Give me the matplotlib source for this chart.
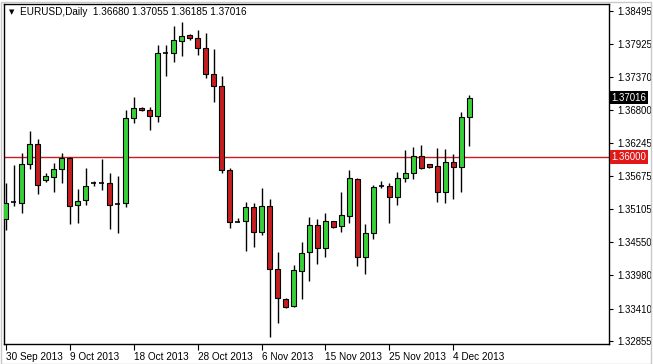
import matplotlib
matplotlib.use("Agg")
import matplotlib.pyplot as plt
from matplotlib.patches import Rectangle
import pandas as pd

# daily bars, the broker also sends a short Sunday bar (no Saturdays)
dates = pd.date_range("2013-09-30", "2013-12-06", freq="D")
dates = dates[dates.dayofweek != 5]

opens = [1.34940, 1.35231, 1.35214, 1.35880, 1.36222, 1.35607, 1.35658, 1.35795, 1.35983, 1.35180,
         1.35265, 1.35556, 1.35556, 1.35556, 1.35197, 1.35214, 1.36666, 1.36837, 1.36803, 1.36701,
         1.37777, 1.37777, 1.37982, 1.38085, 1.38034, 1.37863, 1.37418, 1.37213, 1.35778, 1.34889,
         1.34906, 1.35145, 1.34718, 1.35162, 1.34086, 1.33573, 1.33453, 1.34052, 1.34376, 1.34838,
         1.34445, 1.34906, 1.34821, 1.34992, 1.35624, 1.34291, 1.34701, 1.35504, 1.35504, 1.35316,
         1.35641, 1.35726, 1.36017, 1.35880, 1.35846, 1.35402, 1.35914, 1.35829, 1.36680]
highs = [1.35556, 1.35863, 1.36068, 1.36444, 1.36307, 1.35726, 1.35897, 1.36068, 1.36000, 1.35453,
         1.35812, 1.35590, 1.35966, 1.35726, 1.35675, 1.36803, 1.37025, 1.36854, 1.36854, 1.37914,
         1.37914, 1.38239, 1.38307, 1.38102, 1.38170, 1.38119, 1.37846, 1.37384, 1.35812, 1.34957,
         1.35231, 1.35214, 1.35470, 1.35282, 1.34376, 1.33590, 1.34154, 1.34547, 1.34974, 1.34940,
         1.35043, 1.34906, 1.35402, 1.35778, 1.35641, 1.34855, 1.35521, 1.35590, 1.35556, 1.35744,
         1.36119, 1.36171, 1.36205, 1.35880, 1.36154, 1.36137, 1.36051, 1.36769, 1.37055]
lows = [1.34752, 1.35162, 1.35043, 1.35795, 1.35368, 1.35573, 1.35402, 1.35556, 1.34855, 1.34872,
        1.35180, 1.35504, 1.35436, 1.34769, 1.34701, 1.35145, 1.36581, 1.36786, 1.36461, 1.36598,
        1.37384, 1.37623, 1.37726, 1.37999, 1.37743, 1.37350, 1.36940, 1.35726, 1.34786, 1.34889,
        1.34393, 1.34462, 1.34667, 1.32924, 1.33163, 1.33419, 1.33436, 1.33573, 1.33881, 1.34171,
        1.34291, 1.34786, 1.34718, 1.34872, 1.34137, 1.34000, 1.34598, 1.35470, 1.34872, 1.35180,
        1.35573, 1.35624, 1.35795, 1.35812, 1.35231, 1.35214, 1.35282, 1.35402, 1.36185]
closes = [1.35214, 1.35231, 1.35880, 1.36222, 1.35521, 1.35675, 1.35795, 1.35983, 1.35162, 1.35248,
          1.35504, 1.35556, 1.35556, 1.35180, 1.35197, 1.36666, 1.36837, 1.36803, 1.36701, 1.37777,
          1.37777, 1.37999, 1.38068, 1.38034, 1.37863, 1.37418, 1.37213, 1.35778, 1.34889, 1.34889,
          1.35145, 1.34718, 1.35162, 1.34086, 1.33590, 1.33436, 1.34069, 1.34359, 1.34838, 1.34445,
          1.34906, 1.34804, 1.35009, 1.35641, 1.34291, 1.34701, 1.35487, 1.35504, 1.35316, 1.35641,
          1.35726, 1.36017, 1.35812, 1.35829, 1.35402, 1.35914, 1.35829, 1.36683, 1.37016]

price_ticks = [1.38495, 1.37925, 1.37370, 1.36800, 1.36245, 1.35675,
               1.35105, 1.34550, 1.33980, 1.33410, 1.32855]
level = 1.36000
last_price = closes[-1]

bull = "#38d038"
bear = "#c41e1e"
font = ["Liberation Sans", "DejaVu Sans"]

fig = plt.figure(figsize=(6.53, 3.64), dpi=100)
fig.patch.set_facecolor("white")
ax = fig.add_axes([4 / 653, 20 / 364, 605 / 653, 340 / 364])

for i in range(len(opens)):
    o, h, l, c = opens[i], highs[i], lows[i], closes[i]
    ax.vlines(i, l, h, color="black", lw=1, zorder=2)
    if o == c:
        ax.hlines(o, i - 0.3, i + 0.3, color="black", lw=1.2, zorder=3)
    else:
        col = bull if c > o else bear
        ax.add_patch(Rectangle((i - 0.3, min(o, c)), 0.6, abs(c - o),
                               facecolor=col, edgecolor="black", lw=0.8, zorder=3))

ax.axhline(level, color="#c81e1e", lw=1, zorder=1)

ax.set_xlim(-0.2, 75.45)
ax.set_ylim(1.32804, 1.38615)

ax.yaxis.tick_right()
ax.set_yticks(price_ticks)
ax.set_yticklabels(["%.5f" % p for p in price_ticks], fontfamily=font)
ax.tick_params(axis="y", direction="out", length=3, width=0.8, pad=3, labelsize=6.9)

xt = list(range(0, len(dates), 8))
ax.set_xticks(xt)
ax.set_xticklabels([f"{dates[k].day} {dates[k]:%b %Y}" for k in xt], fontfamily=font, ha="left")
ax.tick_params(axis="x", direction="out", length=4, width=0.8, pad=2, labelsize=7.2)

for s in ax.spines.values():
    s.set_linewidth(1)
    s.set_color("black")

trans = ax.get_yaxis_transform()
ax.text(1.004, last_price, "%.5f" % last_price, transform=trans, ha="left", va="center",
        color="white", fontsize=6.9, fontfamily=font,
        bbox=dict(boxstyle="square,pad=0.2", fc="black", ec="none"))
ax.text(1.004, level, "%.5f" % level, transform=trans, ha="left", va="center",
        color="white", fontsize=6.9, fontfamily=font,
        bbox=dict(boxstyle="square,pad=0.2", fc="#e01818", ec="none"))

header = "EURUSD,Daily  %.5f %.5f %.5f %.5f" % (opens[-1], highs[-1], lows[-1], closes[-1])
fig.text(9 / 653, 1 - 12 / 364, "\u25bc", fontsize=5, va="center", ha="left")
fig.text(20 / 653, 1 - 12 / 364, header, fontsize=7.2, fontfamily=font, va="center", ha="left")

# light grey window frame
fig.add_artist(Rectangle((0.5 / 653, 0.5 / 364), 650 / 653, 362 / 364, transform=fig.transFigure,
                         fill=False, edgecolor="#c8c8c8", lw=1))

fig.savefig("out.png", dpi=100)
